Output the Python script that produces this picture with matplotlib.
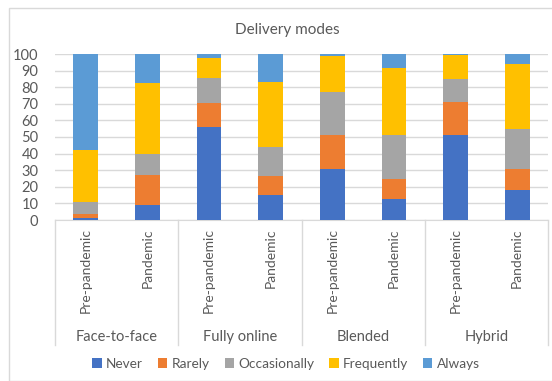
import numpy as np
import matplotlib.pyplot as plt
from matplotlib.patches import Rectangle

# data (percent of respondents)
groups = ["Face-to-face", "Fully online", "Blended", "Hybrid"]
periods = ["Pre-pandemic", "Pandemic"]
levels = ["Never", "Rarely", "Occasionally", "Frequently", "Always"]
colors = ["#4472C4", "#ED7D31", "#A5A5A5", "#FFC000", "#5B9BD5"]

never = [1.5, 9, 56, 15, 31, 12.5, 51, 18]
rarely = [2, 18, 14.5, 11.5, 20, 12, 20, 13]
occasionally = [7.5, 13, 15, 17.5, 26, 27, 14, 24]
frequently = [31, 42.5, 12, 39, 22, 40, 14.5, 39]
always = [58, 17.5, 2.5, 17, 1, 8.5, 0.5, 6]

series = [never, rarely, occasionally, frequently, always]

W, H = 552, 381
plt.rcParams['font.family'] = ['Lato', 'DejaVu Sans']
txt = '#595959'

fig = plt.figure(figsize=(W / 100, H / 100), dpi=100)
fig.patches.append(Rectangle((9 / W, 0), 1, 1 - 8 / H, transform=fig.transFigure,
                             fill=False, edgecolor='#D9D9D9', linewidth=1))

ax = fig.add_axes([55 / W, 161 / H, 493 / W, 166 / H])
x = np.arange(len(never))
bottom = np.zeros(len(x))
for name, vals, c in zip(levels, series, colors):
    ax.bar(x, vals, 0.4, bottom=bottom, color=c, label=name, zorder=3)
    bottom += np.array(vals)

ax.set_xlim(-0.5, len(x) - 0.5)
ax.set_ylim(0, 100)
ax.set_yticks(np.arange(0, 101, 10))
ax.grid(axis='y', color='#D9D9D9', linewidth=1, zorder=0)
for s in ['top', 'right', 'left']:
    ax.spines[s].set_visible(False)
ax.spines['bottom'].set_color('#D9D9D9')
ax.tick_params(axis='y', length=0, labelsize=10.5, labelcolor=txt, pad=12)
ax.tick_params(axis='x', length=0, labelsize=10, labelcolor=txt, pad=6)
ax.set_xticks(x)
ax.set_xticklabels(periods * len(groups), rotation=90, va='top')

# group separators and labels below the axis
trans = ax.get_xaxis_transform()
y_low = -125 / 166
for b in np.arange(-0.5, len(x), 2):
    ax.plot([b, b], [0, y_low], color='#D9D9D9', linewidth=1,
            transform=trans, clip_on=False)
for i, g in enumerate(groups):
    ax.text(2 * i + 0.5, -117 / 166, g, transform=trans, ha='center', va='center',
            fontsize=10.5, color=txt)

fig.text(287 / W, 1 - 30 / H, "Delivery modes", ha='center', va='center',
         fontsize=11, color=txt)

ax.legend(loc='center', bbox_to_anchor=(286 / W, 1 - 364 / H),
          bbox_transform=fig.transFigure, ncol=5, frameon=False,
          fontsize=9.8, labelcolor=txt, handlelength=0.7, handleheight=0.7,
          handletextpad=0.3, columnspacing=1.1)

fig.savefig("out.png", dpi=100)
